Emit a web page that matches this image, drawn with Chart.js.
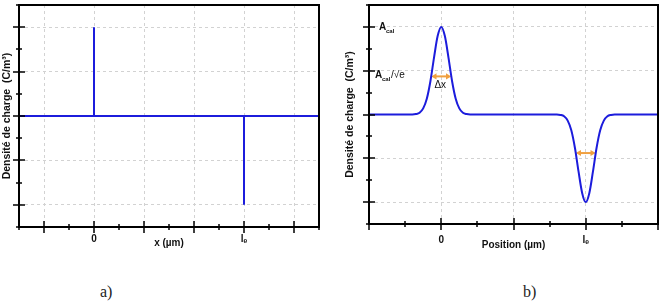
<!DOCTYPE html>
<html>
<head>
<meta charset="utf-8">
<script src="https://cdn.jsdelivr.net/npm/chart.js@4/dist/chart.umd.min.js"></script>
<style>
  body { margin: 0; background: #fff; width: 668px; height: 308px; position: relative; overflow: hidden; }
  canvas { position: absolute; top: 0; }
  #chartA { left: 0; }
  #chartB { left: 334px; }
  .caption { position: absolute; top: 283px; font: 16px "Liberation Serif", "DejaVu Serif", serif; color: #222; }
</style>
</head>
<body>
<canvas id="chartA" width="334" height="260"></canvas>
<canvas id="chartB" width="334" height="260"></canvas>
<div class="caption" style="left:100px">a)</div>
<div class="caption" style="left:523px">b)</div>
<script>
// panel a: ideal charge distribution (two spikes)
const aX = [-1.5, 0, 0, 0, 3, 3, 3, 4.5];
const aY = [0, 0, 2, 0, 0, -2, 0, 0];
const aTickLabels = { 0: '0', 3: 'lₑ' };

// panel b: gaussian-smoothed distribution
const bX = [-1, -0.5, -0.4, -0.35, -0.3, -0.25, -0.2, -0.15, -0.1, -0.05, 0, 0.05, 0.1, 0.15, 0.2, 0.25, 0.3, 0.35, 0.4,
            0.5, 1, 1.5, 1.6, 1.65, 1.7, 1.75, 1.8, 1.85, 1.9, 1.95, 2, 2.05, 2.1, 2.15, 2.2, 2.25, 2.3, 2.35, 2.4, 2.5, 3];
const bY = [0, 0, 0, 0.01, 0.04, 0.14, 0.36, 0.76, 1.30, 1.79, 2, 1.79, 1.30, 0.76, 0.36, 0.14, 0.04, 0.01, 0,
            0, 0, 0, 0, -0.01, -0.04, -0.14, -0.36, -0.76, -1.30, -1.79, -2, -1.79, -1.30, -0.76, -0.36, -0.14, -0.04, -0.01, 0, 0, 0];
const bTickLabels = { 0: '0', 2: 'lₑ' };
// width arrows (Δx)
const arrow1X = [-0.09, 0.09], arrow1Y = [0.87, 0.87];
const arrow2X = [1.91, 2.09], arrow2Y = [-0.88, -0.88];

const BLUE = '#1c1cdc', ORANGE = '#f0a040';
const FONT = '"Liberation Sans", Arial, "DejaVu Sans", sans-serif';

const toPts = (xs, ys) => xs.map((x, i) => ({ x, y: ys[i] }));

// frame + ticks that cross the axis lines
const framePlugin = {
    id: 'frame',
    afterDraw(chart) {
        const { ctx, chartArea: a, scales: { x, y } } = chart;
        ctx.save();
        ctx.setLineDash([]);
        ctx.strokeStyle = '#000';
        ctx.lineWidth = 2;
        ctx.strokeRect(a.left, a.top, a.right - a.left, a.bottom - a.top);
        ctx.lineWidth = 1.5;
        ctx.beginPath();
        x.ticks.forEach(t => {
            const px = Math.round(x.getPixelForValue(t.value));
            const l = Number.isInteger(t.value) ? 6 : 3;
            ctx.moveTo(px, a.bottom - l); ctx.lineTo(px, a.bottom + l);
        });
        y.ticks.forEach(t => {
            const py = Math.round(y.getPixelForValue(t.value));
            const l = Number.isInteger(t.value) ? 6 : 3;
            ctx.moveTo(a.left - l, py); ctx.lineTo(a.left + l, py);
        });
        ctx.stroke();
        ctx.restore();
    }
};

// A_cal, A_cal/√e and Δx labels on panel b
const labelPlugin = {
    id: 'labels',
    afterDraw(chart) {
        const { ctx, chartArea: a, scales: { x, y } } = chart;
        ctx.save();
        ctx.fillStyle = '#111';
        ctx.textBaseline = 'middle';
        let px = a.left + 10, py = y.getPixelForValue(2);
        ctx.font = 'bold 10px ' + FONT;
        ctx.fillText('A', px, py);
        ctx.font = 'bold 6px ' + FONT;
        ctx.fillText('cal', px + 7, py + 4);

        px = a.left + 6; py = y.getPixelForValue(1) + 5;
        ctx.font = 'bold 10px ' + FONT;
        ctx.fillText('A', px, py);
        ctx.font = 'bold 6px ' + FONT;
        ctx.fillText('cal', px + 7, py + 4);
        ctx.font = '10px ' + FONT;
        ctx.fillText('/√e', px + 16, py);

        ctx.textAlign = 'center';
        ctx.font = '10px ' + FONT;
        ctx.fillText('Δx', x.getPixelForValue(0) - 1, y.getPixelForValue(arrow1Y[0]) + 9);
        ctx.restore();
    }
};

function gridColor(axis) {
    return (c) => {
        const v = c.tick.value;
        if (!Number.isInteger(v) || (v === 0 && axis === 'y')) return 'transparent';
        if (v === c.scale.min || v === c.scale.max) return 'transparent';
        return '#d2d2d2';
    };
}

function makeOptions(cfg) {
    return {
        responsive: false,
        animation: false,
        layout: { padding: { top: 5, right: cfg.padRight, left: 0, bottom: 0 } },
        plugins: { legend: { display: false }, tooltip: { enabled: false } },
        scales: {
            x: {
                type: 'linear', min: cfg.xMin, max: cfg.xMax,
                afterFit: s => { s.height = cfg.xHeight; },
                border: { display: false, dash: [3, 3] },
                grid: { color: gridColor('x'), drawTicks: false, lineWidth: 1 },
                ticks: {
                    stepSize: 0.5, autoSkip: false, maxRotation: 0, padding: cfg.tickPad,
                    color: '#111', font: { family: FONT, size: 10, weight: 'bold' },
                    callback: v => cfg.labels[v] ?? ''
                },
                title: {
                    display: true, text: cfg.xTitle, color: '#111',
                    font: { family: FONT, size: 10, weight: 'bold' },
                    padding: { top: 0, bottom: cfg.xTitlePad }
                }
            },
            y: {
                min: -2.5, max: 2.5,
                afterFit: s => { s.width = cfg.yWidth; },
                border: { display: false, dash: [3, 3] },
                grid: { color: gridColor('y'), drawTicks: false, lineWidth: 1 },
                ticks: { stepSize: 0.5, display: false },
                title: {
                    display: true, text: 'Densité de charge  (C/m³)', color: '#111',
                    font: { family: FONT, size: 10.5, weight: 'bold' },
                    padding: { top: cfg.yTitlePad, bottom: 0 }
                }
            }
        }
    };
}

new Chart(document.getElementById('chartA'), {
    type: 'line',
    data: {
        datasets: [{
            data: toPts(aX, aY), borderColor: BLUE, borderWidth: 2, pointRadius: 0, tension: 0
        }]
    },
    options: makeOptions({ xMin: -1.5, xMax: 4.5, padRight: 15, xHeight: 33, yWidth: 19, tickPad: 6,
        labels: aTickLabels, xTitle: 'x (µm)', xTitlePad: 11, yTitlePad: 1 }),
    plugins: [framePlugin]
});

new Chart(document.getElementById('chartB'), {
    type: 'line',
    data: {
        datasets: [
            { data: toPts(bX, bY), borderColor: BLUE, borderWidth: 2, pointRadius: 0, cubicInterpolationMode: 'monotone' },
            { data: toPts(arrow1X, arrow1Y), borderColor: ORANGE, borderWidth: 2, pointStyle: 'triangle',
              pointRadius: 3.5, pointBackgroundColor: ORANGE, pointBorderWidth: 0, pointRotation: [-90, 90] },
            { data: toPts(arrow2X, arrow2Y), borderColor: ORANGE, borderWidth: 2, pointStyle: 'triangle',
              pointRadius: 3.5, pointBackgroundColor: ORANGE, pointBorderWidth: 0, pointRotation: [-90, 90] }
        ]
    },
    options: makeOptions({ xMin: -1, xMax: 3, padRight: 1, xHeight: 36, yWidth: 35, tickPad: 10,
        labels: bTickLabels, xTitle: 'Position (µm)', xTitlePad: 9, yTitlePad: 10 }),
    plugins: [framePlugin, labelPlugin]
});
</script>
</body>
</html>
